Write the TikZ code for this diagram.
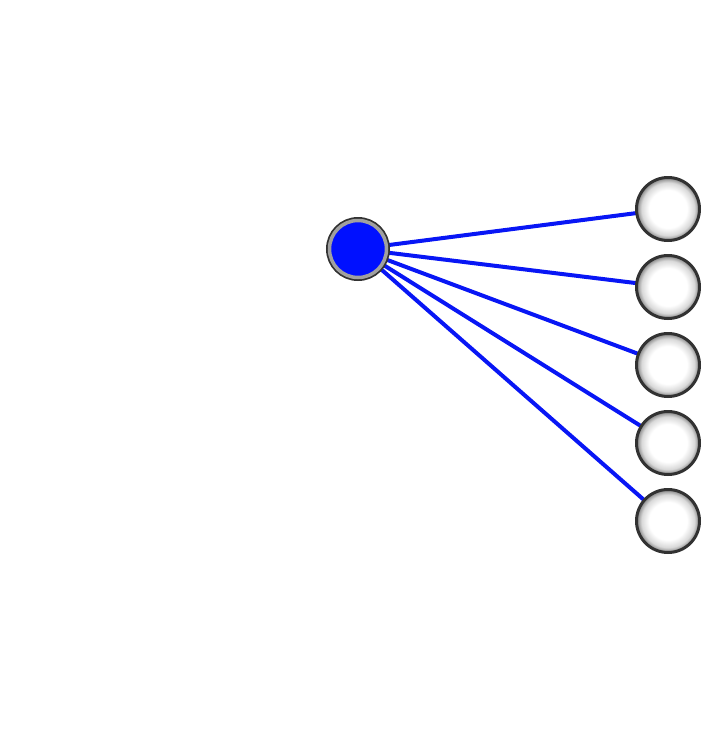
\documentclass[tikz,border=0pt]{standalone}
\usetikzlibrary{backgrounds}
\definecolor{nodeblue}{RGB}{0,16,255}
\definecolor{edgeblue}{RGB}{8,22,245}
\definecolor{ringdark}{RGB}{50,50,50}
\definecolor{ringgray}{RGB}{160,160,160}
\pgfdeclareradialshading{ballshade}{\pgfpoint{0bp}{0bp}}{%
  color(0bp)=(white); color(15bp)=(white); color(21bp)=(black!15); color(25bp)=(black!50); color(50bp)=(black!50)}
\tikzset{
  hubnode/.style={circle, minimum size=57pt, inner sep=0pt, outer sep=0pt,
    fill=nodeblue, draw=ringgray, line width=3.5pt,
    preaction={draw=ringdark, line width=7pt}},
  leafnode/.style={circle, minimum size=63pt, inner sep=0pt, outer sep=0pt,
    shading=ballshade, draw=ringdark, line width=3pt},
  linkline/.style={draw=edgeblue, line width=4pt}
}
\begin{document}
\begin{tikzpicture}[x=1pt,y=1pt]
\useasboundingbox (0,-732) rectangle (707,0);
\node[hubnode] (hub) at (358,-249) {};
\node[leafnode] (l1) at (668,-209) {};
\node[leafnode] (l2) at (668,-287) {};
\node[leafnode] (l3) at (668,-365) {};
\node[leafnode] (l4) at (668,-443) {};
\node[leafnode] (l5) at (668,-521) {};
\begin{scope}[on background layer]
\foreach \n in {l1,l2,l3,l4,l5}
  \draw[linkline] (hub.center) -- (\n.center);
\end{scope}
\end{tikzpicture}
\end{document}
